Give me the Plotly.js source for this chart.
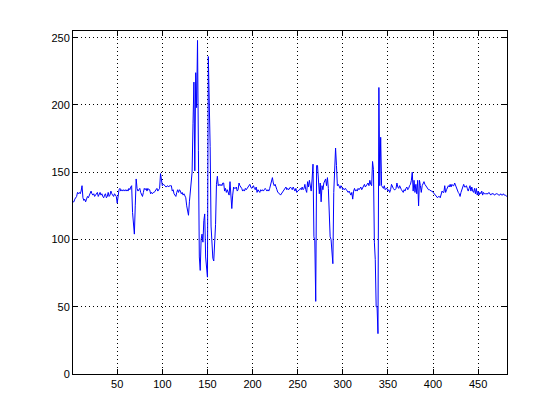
<!DOCTYPE html>
<html>
<head>
<meta charset="utf-8">
<script src="https://cdn.plot.ly/plotly-3.0.1.min.js"></script>
<style>html,body{margin:0;padding:0;background:#fff;}#chart{width:560px;height:420px;}</style>
</head>
<body>
<div id="chart"></div>
<script>
// signal samples 1..482
const seg1 = [128,128,130,131,132,135,134,135,134,136,140,131,129,130,128,130,132,131,133,134,
  136,134,133,134,132,133,134,135,132,134,135,133,134,132,131,133,134,131,132,135,
  132,133,136,134,133,132,134,133,132,127,133,137,138,136,137,136,137,136,137,136,
  137,136,138,137,139,140,120,112,104,125,145,138,136,137,138,135,133,132,135,138];
const seg2 = [137,138,136,138,137,137,134,135,134,135,135,136,137,138,136,137,138,149,143,140,
  141,140,140,139,140,140,139,140,140,140,136,137,134,133,132,135,137,135,137,136,
  134,135,133,134,132,131,125,119,118,128,137,143,150,186,217,151,224,198,248,166,
  87,77,100,104,98,114,119,87,75,72,236,211,169,110,95,86,84,99,111,141,
  147,140];
const seg3 = [141,140,141,140,142,142,136,138,135,137,135,133,143,131,123,133,139,138,138,139,
  136,137,142,140,139,138,136,137,136,138,137,138,139,140,141,139,138,139,140,138,
  137,139,135,137,136,135,137,136,137,136,137,138,137,136,137,136,138,141,144,146,
  142,140,141,138,137,135,134,134,133,134,135,136,138,138,139,137,138,137,138,139];
const seg4 = [138,137,139,138,136,138,135,136,137,137,138,137,139,137,138,141,137,135,143,139,
  144,141,136,145,156,102,99,54,155,155,138,134,142,128,140,137,142,143,145,140,
  146,138,117,102,100,88,82,135,160,168,155,140,141,140,138];
const seg5 = [140,139,137,138,137,138,137,136,135,136,134,133,135,130,136,138,136,137,136,138,
  137,138,139,137,138,140,141,139,140,141,142,140,144,141,140,158,152,98,85,50,
  50,30,213,140,176,140,139,138,140,137,138,138,136,137,135,137,141,139,138,137,
  137,138,142,139,138,140,138,137,136,135,137,136];
const seg6 = [138,139,137,138,140,141,144,150,136,144,135,141,134,144,125,144,140,135,140,142,
  143,141,140,139,138,137,137,136,136,136,135,135,133,132,132,131,132,132,131,133,
  136,135,135,140,135,137,139,140,139,141,139,141,140,140,142,140,139,136,135,134,
  132,135,138,139,141,139,139,140,138,136,138,140,136,139,136,135,138,134,138,133,
  136,133,135,134,136,133,135,134,134,134,134,134,135,134,133,134,134,134,133,134,
  134,134,133,133,133,134,133,133,134,133,133,132,132];
const signal = seg1.concat(seg2, seg3, seg4, seg5, seg6);
const sampleIndex = signal.map((_, k) => k + 1);

const xTicks = [50,100,150,200,250,300,350,400,450];
const yTicks = [0,50,100,150,200,250];

const font = {family: 'Liberation Sans, Arial, Helvetica, sans-serif', size: 11, color: '#000'};

Plotly.newPlot('chart', [{
  x: sampleIndex, y: signal, type: 'scatter', mode: 'lines',
  line: {color: '#0000ff', width: 1}, hoverinfo: 'none'
}], {
  width: 560, height: 420,
  margin: {l: 73, r: 53, t: 31, b: 46, pad: 0},
  paper_bgcolor: '#fff', plot_bgcolor: '#fff',
  showlegend: false,
  font: font,
  xaxis: {
    range: [1, sampleIndex.length], tickvals: xTicks, ticktext: xTicks.map(String),
    showline: true, linecolor: '#000', linewidth: 1, mirror: 'allticks',
    ticks: 'inside', ticklen: 5, tickcolor: '#000', tickwidth: 1,
    showgrid: true, gridcolor: '#000', gridwidth: 1, griddash: '1px,3px',
    zeroline: false, tickfont: font
  },
  yaxis: {
    range: [0, 255], tickvals: yTicks, ticktext: yTicks.map(String),
    showline: true, linecolor: '#000', linewidth: 1, mirror: 'allticks',
    ticks: 'inside', ticklen: 5, tickcolor: '#000', tickwidth: 1,
    showgrid: true, gridcolor: '#000', gridwidth: 1, griddash: '1px,3px',
    zeroline: false, tickfont: font
  }
}, {staticPlot: true, displayModeBar: false});
</script>
</body>
</html>
